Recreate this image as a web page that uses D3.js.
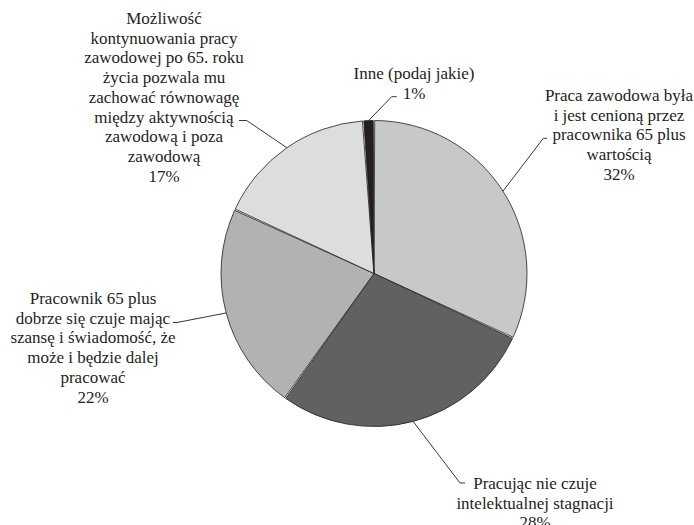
<!DOCTYPE html>
<html><head><meta charset="utf-8">
<script src="https://cdn.jsdelivr.net/npm/d3@7"></script>
<style>html,body{margin:0;padding:0;background:#fff;}</style>
</head><body>
<svg id="chart" width="694" height="525"></svg>
<script>
// Data
const categories = [
  "Praca zawodowa była i jest cenioną przez pracownika 65 plus wartością",
  "Pracując nie czuje intelektualnej stagnacji",
  "Pracownik 65 plus dobrze się czuje mając szansę i świadomość, że może i będzie dalej pracować",
  "Możliwość kontynuowania pracy zawodowej po 65. roku życia pozwala mu zachować równowagę między aktywnością zawodową i poza zawodową",
  "Inne (podaj jakie)"
];
const values = [32, 28, 22, 17, 1];
const labelLines = [
  ["Praca zawodowa była", "i jest cenioną przez", "pracownika 65 plus", "wartością"],
  ["Pracując nie czuje", "intelektualnej stagnacji"],
  ["Pracownik 65 plus", "dobrze się czuje mając", "szansę i świadomość, że", "może i będzie dalej", "pracować"],
  ["Możliwość", "kontynuowania pracy", "zawodowej po 65. roku", "życia pozwala mu", "zachować równowagę", "między aktywnością", "zawodową i poza", "zawodową"],
  ["Inne (podaj jakie)"]
];
const colors = ["#c7c8ca", "#616163", "#b1b2b4", "#dcdddf", "#231f20"];

// Layout (positions only)
const cx = 374, cy = 273.5, R = 153;
const fontSize = 17, lineH = 19.7;
const labelLayout = [
  {x: 619, y: 101, elbow: [543.3, 138.3], end: [547, 138.3]},
  {x: 535, y: 489, elbow: [460, 483], end: [465, 483]},
  {x: 93,  y: 304, elbow: [177, 322.5], end: [173, 322.5]},
  {x: 164, y: 24,  elbow: [246.7, 120.5], end: [239, 120.5]},
  {x: 414, y: 79,  elbow: [391.7, 96.7], end: [396.7, 96.7]}
];

const svg = d3.select("#chart");
const g = svg.append("g").attr("transform", `translate(${cx},${cy})`);

const pie = d3.pie().sort(null).value(d => d).padAngle(0.009);
const arcs = pie(values);
const arc = d3.arc().innerRadius(0).outerRadius(R);

g.selectAll("path.slice").data(arcs).join("path")
  .attr("class", "slice")
  .attr("d", arc)
  .attr("fill", (d, i) => colors[i])
  .attr("stroke", "#231f20")
  .attr("stroke-width", 0.8)
  .attr("stroke-linejoin", "round");

// Leader lines from slice mid-angle on the rim to the label
arcs.forEach((d, i) => {
  const mid = (d.startAngle + d.endAngle) / 2;
  const sx = cx + R * Math.sin(mid), sy = cy - R * Math.cos(mid);
  const L = labelLayout[i];
  svg.append("polyline")
    .attr("points", [[sx, sy], L.elbow, L.end].map(p => p.join(",")).join(" "))
    .attr("fill", "none").attr("stroke", "#231f20").attr("stroke-width", 0.9);
});

// Labels
arcs.forEach((d, i) => {
  const L = labelLayout[i];
  const lines = labelLines[i].concat([values[i] + "%"]);
  const t = svg.append("text")
    .attr("font-family", "'Liberation Serif', 'Times New Roman', serif")
    .attr("font-size", fontSize)
    .attr("fill", "#231f20")
    .attr("text-anchor", "middle");
  lines.forEach((ln, k) => {
    t.append("tspan").attr("x", L.x).attr("y", L.y + k * lineH).text(ln);
  });
});
</script>
</body></html>
